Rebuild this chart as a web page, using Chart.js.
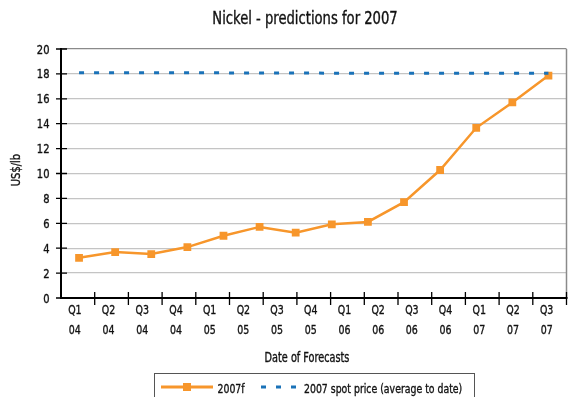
<!doctype html>
<html lang="en">
    <head>
        <meta charset="UTF-8" />
        <title>Nickel - predictions for 2007</title>
        <script src="https://cdn.jsdelivr.net/npm/chart.js"></script>
        <style>
            body { margin: 0; background: #fff; }
        </style>
    </head>

    <body>
        <canvas id="nickel" width="572" height="397"></canvas>
        <script>
            const quarterLabels = [
                ['Q1', '04'], ['Q2', '04'], ['Q3', '04'], ['Q4', '04'],
                ['Q1', '05'], ['Q2', '05'], ['Q3', '05'], ['Q4', '05'],
                ['Q1', '06'], ['Q2', '06'], ['Q3', '06'], ['Q4', '06'],
                ['Q1', '07'], ['Q2', '07'], ['Q3', '07'],
            ]
            const forecast2007 = [3.23, 3.69, 3.53, 4.09, 5.0, 5.71, 5.25, 5.92, 6.11, 7.7, 10.28, 13.67, 15.71, 17.87]
            const spotPrice2007 = [18.1, 18.1, 18.1, 18.1, 18.08, 18.08, 18.07, 18.06, 18.05, 18.05, 18.05, 18.05, 18.05, 18.05]
            const yTicks = [0, 20, 2]

            const FONT = "'DejaVu Sans Condensed', 'DejaVu Sans', sans-serif"
            const ORANGE = '#f7962b'
            const BLUE = '#1a72b8'
            const INK = '#111'

            const toPoints = (arr) => arr.map((v, i) => ({ x: i, y: v }))

            // condensed text: squeeze horizontally around the anchor point,
            // with a hairline stroke to give it a bit more weight
            function label(ctx, str, x, y, size, align, sx) {
                ctx.save()
                ctx.translate(x, y)
                ctx.scale(sx, 1)
                ctx.font = size + 'px ' + FONT
                ctx.textAlign = align
                ctx.textBaseline = 'alphabetic'
                ctx.fillStyle = INK
                ctx.strokeStyle = INK
                ctx.lineWidth = 0.35
                ctx.fillText(str, 0, 0)
                ctx.strokeText(str, 0, 0)
                ctx.restore()
            }

            // axes, tick marks, tick labels, titles and the boxed legend
            const decorations = {
                id: 'decorations',
                afterDraw(chart) {
                    const { ctx, chartArea: a } = chart
                    const y = chart.scales.y
                    const q = chart.scales.q
                    ctx.save()

                    // right border
                    ctx.strokeStyle = '#8a8a8a'
                    ctx.lineWidth = 1.5
                    ctx.beginPath()
                    ctx.moveTo(a.right, a.top)
                    ctx.lineTo(a.right, a.bottom)
                    ctx.stroke()

                    // axis lines
                    ctx.strokeStyle = '#000'
                    ctx.lineWidth = 2
                    ctx.beginPath()
                    ctx.moveTo(a.left, a.top - 1)
                    ctx.lineTo(a.left, a.bottom + 1)
                    ctx.moveTo(a.left - 1, a.bottom)
                    ctx.lineTo(a.right + 1, a.bottom)
                    ctx.stroke()

                    // crossing tick marks
                    ctx.lineWidth = 1.3
                    ctx.beginPath()
                    for (let v = yTicks[0]; v <= yTicks[1]; v += yTicks[2]) {
                        const py = y.getPixelForValue(v)
                        ctx.moveTo(a.left - 5, py)
                        ctx.lineTo(a.left + 6, py)
                    }
                    const step = (a.right - a.left) / quarterLabels.length
                    for (let i = 1; i <= quarterLabels.length; i++) {
                        const px = a.left + step * i
                        ctx.moveTo(px, a.bottom - 6)
                        ctx.lineTo(px, a.bottom + 7)
                    }
                    ctx.stroke()

                    // tick labels
                    for (let v = yTicks[0]; v <= yTicks[1]; v += yTicks[2]) {
                        label(ctx, String(v), 49.5, y.getPixelForValue(v) + 4.5, 12, 'right', 0.92)
                    }
                    quarterLabels.forEach((lines, i) => {
                        const px = q.getPixelForValue(i) - 3
                        label(ctx, lines[0], px, a.bottom + 16, 12.5, 'center', 0.84)
                        label(ctx, lines[1], px, a.bottom + 36, 12.5, 'center', 0.84)
                    })

                    // titles
                    label(ctx, 'Nickel - predictions for 2007', 305, 24, 17, 'center', 0.86)
                    label(ctx, 'Date of Forecasts', 307, 362, 13.5, 'center', 0.8)
                    ctx.save()
                    ctx.translate(20, 170)
                    ctx.rotate(-Math.PI / 2)
                    label(ctx, 'US$/lb', 0, 0, 13, 'center', 0.85)
                    ctx.restore()

                    // legend box
                    ctx.strokeStyle = '#555'
                    ctx.lineWidth = 1
                    ctx.strokeRect(154.5, 373.5, 320, 40)
                    const ly = 387
                    ctx.strokeStyle = ORANGE
                    ctx.lineWidth = 3
                    ctx.beginPath()
                    ctx.moveTo(161, ly)
                    ctx.lineTo(213, ly)
                    ctx.stroke()
                    ctx.fillStyle = ORANGE
                    ctx.fillRect(183, ly - 4, 8, 8)
                    ctx.strokeStyle = BLUE
                    ctx.setLineDash([5, 10])
                    ctx.beginPath()
                    ctx.moveTo(261, ly)
                    ctx.lineTo(297, ly)
                    ctx.stroke()
                    ctx.setLineDash([])
                    label(ctx, '2007f', 217.5, 392.5, 13, 'left', 0.8)
                    label(ctx, '2007 spot price (average to date)', 304, 392.5, 13, 'left', 0.8)
                    ctx.restore()
                },
            }

            new Chart(document.getElementById('nickel'), {
                type: 'line',
                data: {
                    datasets: [
                        {
                            label: '2007 spot price (average to date)',
                            data: toPoints(spotPrice2007),
                            borderColor: BLUE,
                            borderWidth: 3,
                            borderDash: [5, 10],
                            pointRadius: 0,
                            xAxisID: 'x',
                        },
                        {
                            label: '2007f',
                            data: toPoints(forecast2007),
                            borderColor: ORANGE,
                            backgroundColor: ORANGE,
                            borderWidth: 2.5,
                            pointStyle: 'rect',
                            pointRadius: 5.5,
                            pointBorderWidth: 0,
                            xAxisID: 'x',
                        },
                    ],
                },
                options: {
                    responsive: false,
                    animation: false,
                    devicePixelRatio: 1,
                    layout: { padding: { top: 49, right: 5, left: 0, bottom: 0 } },
                    plugins: { legend: { display: false }, tooltip: { enabled: false } },
                    scales: {
                        x: {
                            type: 'linear',
                            display: false,
                            min: -0.5,
                            max: forecast2007.length - 0.5,
                        },
                        q: {
                            type: 'category',
                            position: 'bottom',
                            labels: quarterLabels,
                            offset: true,
                            grid: { display: false, drawTicks: false },
                            border: { display: false },
                            ticks: { display: false },
                            afterFit: (s) => { s.height = 99 },
                        },
                        y: {
                            min: yTicks[0],
                            max: yTicks[1],
                            ticks: { display: false, stepSize: yTicks[2] },
                            grid: {
                                drawTicks: false,
                                lineWidth: 1.3,
                                color: (c) => (c.tick && c.tick.value === yTicks[1] ? '#8a8a8a' : '#c4c4c4'),
                            },
                            border: { display: false },
                            afterFit: (s) => { s.width = 61 },
                        },
                    },
                },
                plugins: [decorations],
            })
        </script>
    </body>
</html>
